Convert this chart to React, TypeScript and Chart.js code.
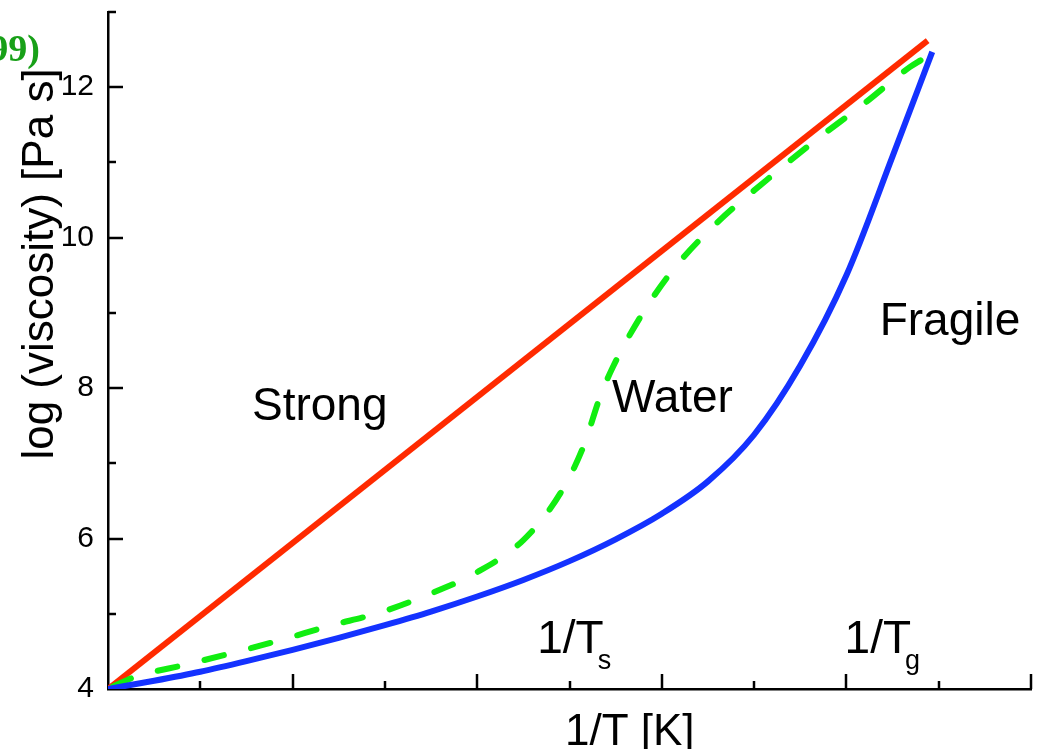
import React, { useEffect, useRef } from "react";
import { Chart, registerables } from "chart.js";

Chart.register(...registerables);

// Reduced temperature axis (1/T, arbitrary units) and log viscosity values
const strongX = [0, 8.88];
const strongY = [4.0, 12.62];

const fragileX = [0, 0.5, 1, 1.5, 2, 2.5, 3, 3.5, 4, 4.5, 5, 5.5, 6, 6.5, 7, 7.5, 8, 8.5, 8.93];
const fragileY = [4.0, 4.11, 4.23, 4.37, 4.52, 4.68, 4.85, 5.03, 5.23, 5.45, 5.7, 5.99, 6.33, 6.76, 7.38, 8.3, 9.5, 11.08, 12.47];

const waterX = [0.05, 0.29, 0.83, 1.35, 1.87, 2.4, 2.93, 3.46, 3.98, 4.5, 4.9, 5.15, 5.33, 5.47, 5.76, 6.12, 6.6, 7.13, 7.65, 8.18, 8.69, 8.82];
const waterY = [4.03, 4.16, 4.32, 4.48, 4.65, 4.84, 5.01, 5.25, 5.54, 5.98, 6.6, 7.22, 7.88, 8.28, 8.93, 9.57, 10.2, 10.76, 11.28, 11.77, 12.27, 12.37];

const xMin = 0;
const xMax = 10;
const yMin = 4;
const yMax = 13;
const yLabelValues = [4, 6, 8, 10, 12];

const curveLabels = [
  { text: "Strong", x: 1.56, y: 7.575 },
  { text: "Water", x: 5.46, y: 7.68 },
  { text: "Fragile", x: 8.36, y: 8.7 },
];
const tempLabels = [
  { main: "1/T", sub: "s", x: 4.65, y: 4.48 },
  { main: "1/T", sub: "g", x: 7.98, y: 4.48 },
];

const xTitle = "1/T [K]";
const yTitle = "log (viscosity) [Pa s]";
const cornerNote = "99)";

const SANS = '"Liberation Sans", Arial, sans-serif';

function pts(xs: number[], ys: number[]) {
  return xs.map((x, i) => ({ x, y: ys[i] }));
}

const decorPlugin = {
  id: "decor",
  afterDraw(chart: any) {
    const ctx = chart.ctx;
    const xs = chart.scales.x;
    const ys = chart.scales.y;
    const area = chart.chartArea;
    ctx.save();
    // inward tick marks
    ctx.strokeStyle = "#000";
    ctx.lineWidth = 2.5;
    ctx.lineCap = "butt";
    for (let v = xMin + 1; v <= xMax; v++) {
      const px = Math.round(xs.getPixelForValue(v));
      const len = v % 2 === 0 ? 15 : 8;
      ctx.beginPath();
      ctx.moveTo(px, area.bottom);
      ctx.lineTo(px, area.bottom - len);
      ctx.stroke();
    }
    for (let v = yMin + 1; v <= yMax; v++) {
      const py = Math.round(ys.getPixelForValue(v));
      const len = v % 2 === 0 ? 15 : 8;
      ctx.beginPath();
      ctx.moveTo(area.left, py);
      ctx.lineTo(area.left + len, py);
      ctx.stroke();
    }

    ctx.fillStyle = "#000";
    ctx.textAlign = "left";
    ctx.textBaseline = "alphabetic";
    ctx.font = `46px ${SANS}`;
    for (const l of curveLabels) {
      ctx.fillText(l.text, xs.getPixelForValue(l.x), ys.getPixelForValue(l.y));
    }
    for (const l of tempLabels) {
      const px = xs.getPixelForValue(l.x);
      const py = ys.getPixelForValue(l.y);
      ctx.font = `46px ${SANS}`;
      ctx.fillText(l.main, px, py);
      const w = ctx.measureText(l.main).width;
      ctx.font = `27px ${SANS}`;
      ctx.fillText(l.sub, px + w - 6, py + 16);
    }

    // axis titles
    ctx.font = `44px ${SANS}`;
    ctx.fillText(xTitle, 565, 745);
    ctx.save();
    ctx.translate(41, 264);
    ctx.rotate(-Math.PI / 2);
    ctx.textAlign = "center";
    ctx.textBaseline = "middle";
    ctx.fillText(yTitle, 0, 0);
    ctx.restore();

    // clipped note at the corner
    ctx.font = `bold 38px "Liberation Serif", "Times New Roman", serif`;
    ctx.fillStyle = "#18a018";
    ctx.textAlign = "right";
    ctx.fillText(cornerNote, 40, 61);
    ctx.restore();
  },
};

export default function App() {
  const ref = useRef<HTMLCanvasElement | null>(null);
  useEffect(() => {
    if (!ref.current) return;
    const chart = new Chart(ref.current, {
      type: "line",
      data: {
        datasets: [
          {
            label: "Fragile",
            data: pts(fragileX, fragileY),
            borderColor: "#1432ff",
            borderWidth: 6,
            pointRadius: 0,
            cubicInterpolationMode: "monotone",
            fill: false,
          },
          {
            label: "Water",
            data: pts(waterX, waterY),
            borderColor: "#11ee11",
            borderWidth: 6,
            borderDash: [20, 28],
            borderCapStyle: "round",
            pointRadius: 0,
            cubicInterpolationMode: "monotone",
            fill: false,
          },
          {
            label: "Strong",
            data: pts(strongX, strongY),
            borderColor: "#ff2a00",
            borderWidth: 6,
            pointRadius: 0,
            tension: 0,
            fill: false,
          },
        ],
      },
      options: {
        responsive: false,
        animation: false,
        events: [],
        layout: { padding: { top: 12, right: 6, left: 0, bottom: 0 } },
        plugins: {
          legend: { display: false },
          tooltip: { enabled: false },
          title: { display: false },
        },
        scales: {
          x: {
            type: "linear",
            min: xMin,
            max: xMax,
            grid: { display: false, drawTicks: false },
            border: { display: true, color: "#000", width: 2.5 },
            ticks: { display: false, stepSize: 1 },
            afterFit: (s: any) => {
              s.height = 60;
              s.paddingLeft = 0;
              s.paddingRight = 0;
            },
          },
          y: {
            type: "linear",
            min: yMin,
            max: yMax,
            grid: { display: false, drawTicks: false },
            border: { display: true, color: "#000", width: 2.5 },
            ticks: {
              stepSize: 1,
              padding: 14,
              color: "#000",
              font: { family: SANS, size: 30 },
              callback: (v: any) => (yLabelValues.includes(Number(v)) ? String(v) : ""),
            },
            afterFit: (s: any) => {
              s.width = 108;
              s.paddingTop = 0;
              s.paddingBottom = 0;
            },
          },
        },
      },
      plugins: [decorPlugin],
    });
    return () => chart.destroy();
  }, []);
  return (
    <div style={{ position: "fixed", left: 0, top: 0, width: 1037, height: 749, background: "#fff" }}>
      <canvas ref={ref} width={1037} height={749} style={{ display: "block" }} />
    </div>
  );
}
